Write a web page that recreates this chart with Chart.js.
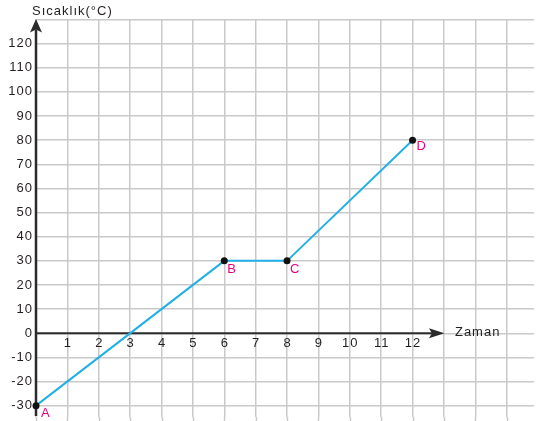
<!DOCTYPE html>
<html>
<head>
<meta charset="utf-8">
<script src="https://cdn.jsdelivr.net/npm/chart.js@4/dist/chart.umd.min.js"></script>
<style>
html,body{margin:0;padding:0;background:#fff;}
canvas{display:block;}
</style>
</head>
<body>
<canvas id="c" width="538" height="421"></canvas>
<script>
// Data
const timeValues = [0, 6, 8, 12];
const tempValues = [-30, 30, 30, 80];
const pointNames = ['A', 'B', 'C', 'D'];
const xTickLabels = [1, 2, 3, 4, 5, 6, 7, 8, 9, 10, 11, 12];
const yTickLabels = [-30, -20, -10, 0, 10, 20, 30, 40, 50, 60, 70, 80, 90, 100, 110, 120];
const xGridValues = [0, 1, 2, 3, 4, 5, 6, 7, 8, 9, 10, 11, 12, 13, 14, 15];
const yGridValues = [-30, -20, -10, 0, 10, 20, 30, 40, 50, 60, 70, 80, 90, 100, 110, 120, 130];
const yAxisTitle = 'Sıcaklık(°C)';
const xAxisTitle = 'Zaman';

const FONT = '"Liberation Sans", Arial, Helvetica, sans-serif';
const TEXT = '#231f20';
const AXIS = '#2b2b2b';
const GRID = '#c9c9c9';
const PINK = '#e6007e';
const LINE = '#22b0e6';

const decor = {
  id: 'decor',
  beforeDraw(chart) {
    try { chart.ctx.letterSpacing = '1px'; } catch (e) {}
  },
  beforeDatasetsDraw(chart) {
    const ctx = chart.ctx;
    const xs = chart.scales.x, ys = chart.scales.y;
    const x0 = xs.getPixelForValue(0);
    const y0 = ys.getPixelForValue(0);
    const yTop = ys.getPixelForValue(130);
    const area = chart.chartArea;
    ctx.save();
    // extend vertical grid lines to the bottom edge of the canvas
    ctx.strokeStyle = GRID;
    ctx.lineWidth = 1.5;
    xGridValues.forEach(v => {
      const px = Math.round(xs.getPixelForValue(v)) + 0.5;
      ctx.beginPath();
      ctx.moveTo(px, area.bottom);
      ctx.lineTo(px, chart.height);
      ctx.stroke();
    });
    ctx.strokeStyle = AXIS;
    ctx.fillStyle = AXIS;
    // y axis
    ctx.lineWidth = 2.5;
    ctx.beginPath();
    ctx.moveTo(x0, yTop + 10);
    ctx.lineTo(x0, 416);
    ctx.stroke();
    ctx.beginPath();
    ctx.moveTo(x0, yTop - 0.5);
    ctx.lineTo(x0 - 6, yTop + 13);
    ctx.lineTo(x0, yTop + 10);
    ctx.lineTo(x0 + 6, yTop + 13);
    ctx.closePath();
    ctx.fill();
    // x axis
    const tip = xs.getPixelForValue(13);
    ctx.lineWidth = 2;
    ctx.beginPath();
    ctx.moveTo(x0, y0);
    ctx.lineTo(tip - 12, y0);
    ctx.stroke();
    ctx.beginPath();
    ctx.moveTo(tip + 0.5, y0);
    ctx.lineTo(tip - 15, y0 - 5);
    ctx.lineTo(tip - 12, y0);
    ctx.lineTo(tip - 15, y0 + 5);
    ctx.closePath();
    ctx.fill();
    // x tick labels
    ctx.font = '13px ' + FONT;
    ctx.fillStyle = TEXT;
    ctx.textAlign = 'center';
    ctx.textBaseline = 'middle';
    xTickLabels.forEach(v => {
      ctx.fillText(String(v), xs.getPixelForValue(v) + 0.5, y0 + 10);
    });
    // axis titles
    ctx.textAlign = 'left';
    ctx.fillText(xAxisTitle, tip + 11, y0 - 0.5);
    ctx.fillText(yAxisTitle, 32, 11.5);
    ctx.restore();
  },
  afterDatasetsDraw(chart) {
    const ctx = chart.ctx;
    const meta = chart.getDatasetMeta(0);
    const offs = [[5, 7.5], [3, 9], [3, 8.5], [4, 6]];
    ctx.save();
    ctx.font = '13px ' + FONT;
    ctx.fillStyle = PINK;
    ctx.textAlign = 'left';
    ctx.textBaseline = 'middle';
    meta.data.forEach((pt, i) => {
      ctx.fillText(pointNames[i], pt.x + offs[i][0], pt.y + offs[i][1]);
    });
    ctx.restore();
  }
};

new Chart(document.getElementById('c'), {
  type: 'line',
  data: {
    datasets: [{
      data: timeValues.map((t, i) => ({ x: t, y: tempValues[i] })),
      borderColor: LINE,
      borderWidth: 2,
      tension: 0,
      pointRadius: 3.5,
      pointBackgroundColor: '#111',
      pointBorderColor: '#111',
      pointBorderWidth: 0,
      clip: false
    }]
  },
  options: {
    responsive: false,
    animation: false,
    events: [],
    layout: { padding: { top: 19.5, left: 0, right: 0, bottom: 0 } },
    plugins: { legend: { display: false }, tooltip: { enabled: false }, title: { display: false } },
    scales: {
      x: {
        type: 'linear',
        min: 0,
        max: 15.87,
        afterBuildTicks: s => { s.ticks = xGridValues.map(v => ({ value: v })); },
        ticks: { display: false, padding: 0 },
        grid: { color: GRID, lineWidth: 1.5, drawTicks: false },
        border: { display: false },
        afterFit: s => { s.height = 0; }
      },
      y: {
        type: 'linear',
        min: -34.7,
        max: 130,
        afterBuildTicks: s => { s.ticks = yGridValues.map(v => ({ value: v })); },
        ticks: {
          padding: 3,
          color: TEXT,
          font: { size: 13, family: FONT },
          callback: v => (yTickLabels.includes(v) ? String(v) : '')
        },
        grid: { color: GRID, lineWidth: 1.5, drawTicks: false },
        border: { display: false },
        afterFit: s => { s.width = 36; s.paddingTop = 0; s.paddingBottom = 0; }
      }
    }
  },
  plugins: [decor]
});
</script>
</body>
</html>
